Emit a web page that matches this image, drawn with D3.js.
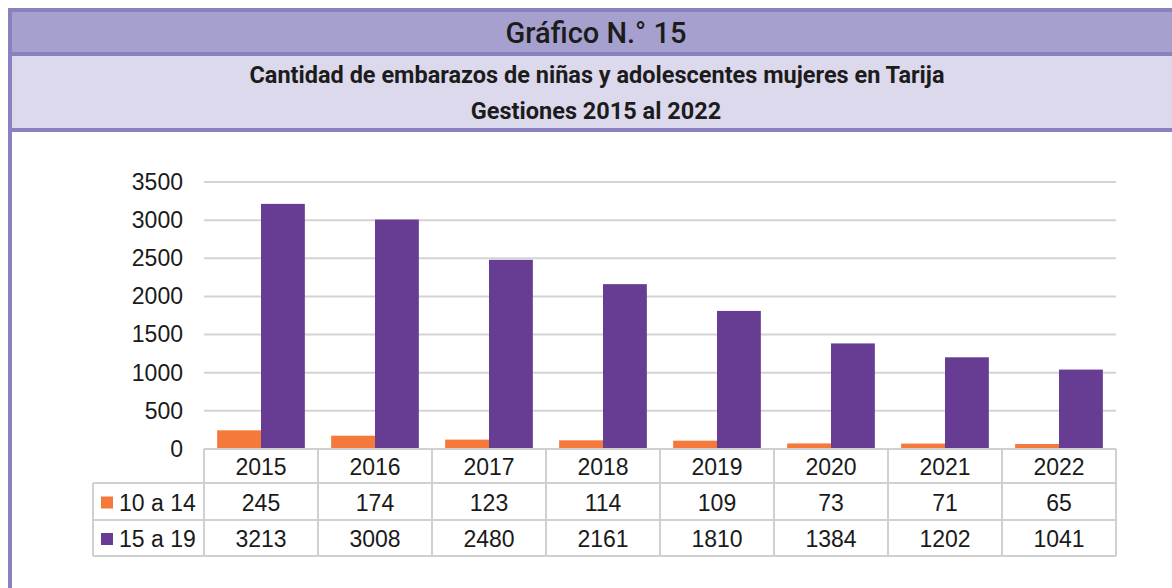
<!DOCTYPE html>
<html>
<head>
<meta charset="utf-8">
<script src="https://cdn.jsdelivr.net/npm/d3@7"></script>
<style>
  body { margin: 0; background: #fff; }
  svg { display: block; }
</style>
</head>
<body>
<svg id="chart" width="1172" height="588"></svg>
<script>
// data
var years = ["2015", "2016", "2017", "2018", "2019", "2020", "2021", "2022"];
var seriesNames = ["10 a 14", "15 a 19"];
var ninas = [245, 174, 123, 114, 109, 73, 71, 65];
var adolescentes = [3213, 3008, 2480, 2161, 1810, 1384, 1202, 1041];
var yTicks = [0, 500, 1000, 1500, 2000, 2500, 3000, 3500];
var colors = ["#F4793B", "#673C93"];

var rows = years.map(function (y, i) {
    return { year: y, "10 a 14": ninas[i], "15 a 19": adolescentes[i] };
});

var svg = d3.select("#chart");

// frame + header bands
svg.append("rect").attr("x", 12).attr("y", 12).attr("width", 1200).attr("height", 40).attr("fill", "#A6A0CF");
svg.append("rect").attr("x", 12).attr("y", 56).attr("width", 1200).attr("height", 72).attr("fill", "#DCD9ED");
svg.append("rect").attr("x", 10).attr("y", 10).attr("width", 1200).attr("height", 700)
    .attr("fill", "none").attr("stroke", "#8882C0").attr("stroke-width", 4);
svg.append("line").attr("x1", 10).attr("x2", 1172).attr("y1", 54).attr("y2", 54)
    .attr("stroke", "#8882C0").attr("stroke-width", 4);
svg.append("line").attr("x1", 10).attr("x2", 1172).attr("y1", 130).attr("y2", 130)
    .attr("stroke", "#8882C0").attr("stroke-width", 4);

svg.append("text").attr("x", 596).attr("y", 43).attr("text-anchor", "middle")
    .style("font-family", "Roboto").style("font-weight", 500).style("font-size", "29px").attr("fill", "#1c1c1c")
    .text("Gráfico N.° 15");
svg.append("text").attr("x", 597).attr("y", 83).attr("text-anchor", "middle")
    .style("font-family", "Roboto").style("font-weight", 700).style("font-size", "23.5px").attr("fill", "#1c1c1c")
    .text("Cantidad de embarazos de niñas y adolescentes mujeres en Tarija");
svg.append("text").attr("x", 596).attr("y", 119).attr("text-anchor", "middle")
    .style("font-family", "Roboto").style("font-weight", 700).style("font-size", "23.5px").attr("fill", "#1c1c1c")
    .text("Gestiones 2015 al 2022");

// scales
var plotLeft = 204, plotRight = 1116, plotTop = 182, plotBottom = 449;
var x0 = d3.scaleBand().domain(years).range([plotLeft, plotRight]).paddingInner(0).paddingOuter(0);
var x1 = d3.scaleBand().domain(seriesNames).range([0, x0.bandwidth()]).paddingInner(0).paddingOuter(0.3);
var y = d3.scaleLinear().domain([0, 3500]).range([plotBottom, plotTop]);
var color = d3.scaleOrdinal().domain(seriesNames).range(colors);

// gridlines
svg.append("g")
    .selectAll("line")
    .data(yTicks.slice(1))
    .join("line")
    .attr("x1", plotLeft).attr("x2", plotRight)
    .attr("y1", d => y(d)).attr("y2", d => y(d))
    .attr("stroke", "#D4D4D4").attr("stroke-width", 2);

// y axis
var yAxis = svg.append("g")
    .attr("transform", `translate(${plotLeft},0)`)
    .call(d3.axisLeft(y).tickValues(yTicks).tickSize(0).tickPadding(21).tickFormat(d3.format("d")));
yAxis.select(".domain").remove();
yAxis.selectAll("text")
    .style("font-family", "Liberation Sans, Arial").style("font-size", "23px").attr("fill", "#1a1a1a");

// bars
svg.append("g")
    .selectAll("g")
    .data(rows)
    .join("g")
    .attr("transform", d => `translate(${x0(d.year)},0)`)
    .selectAll("rect")
    .data(d => seriesNames.map(key => ({ key, value: d[key] })))
    .join("rect")
    .attr("x", d => x1(d.key))
    .attr("y", d => y(d.value))
    .attr("width", x1.bandwidth())
    .attr("height", d => y(0) - y(d.value))
    .attr("fill", d => color(d.key));

// data table
var rowH = [plotBottom, 483, 520, 556];
var legendLeft = 93;
var tbl = svg.append("g").attr("stroke", "#D0D0D0").attr("stroke-width", 2);
tbl.append("line").attr("x1", plotLeft).attr("x2", plotRight).attr("y1", rowH[0]).attr("y2", rowH[0]);
rowH.slice(1).forEach(function (yy) {
    tbl.append("line").attr("x1", legendLeft).attr("x2", plotRight).attr("y1", yy).attr("y2", yy);
});
years.forEach(function (yr) {
    tbl.append("line").attr("x1", x0(yr)).attr("x2", x0(yr)).attr("y1", rowH[0]).attr("y2", rowH[3]);
});
tbl.append("line").attr("x1", plotRight).attr("x2", plotRight).attr("y1", rowH[0]).attr("y2", rowH[3]);
tbl.append("line").attr("x1", legendLeft).attr("x2", legendLeft).attr("y1", rowH[1]).attr("y2", rowH[3]);

var textStyle = function (sel) {
    sel.style("font-family", "Liberation Sans, Arial").style("font-size", "23px").attr("fill", "#1a1a1a")
        .attr("dominant-baseline", "central");
};

svg.append("g").selectAll("text")
    .data(years)
    .join("text")
    .attr("x", d => x0(d) + x0.bandwidth() / 2)
    .attr("y", (rowH[0] + rowH[1]) / 2 + 1)
    .attr("text-anchor", "middle")
    .call(textStyle)
    .text(d => d);

seriesNames.forEach(function (name, si) {
    var cy = (rowH[si + 1] + rowH[si + 2]) / 2 + 1;
    svg.append("rect").attr("x", 101).attr("y", cy - 6).attr("width", 12).attr("height", 12)
        .attr("fill", color(name));
    svg.append("text").attr("x", 119).attr("y", cy).call(textStyle).text(name);
    svg.append("g").selectAll("text")
        .data(rows)
        .join("text")
        .attr("x", d => x0(d.year) + x0.bandwidth() / 2)
        .attr("y", cy)
        .attr("text-anchor", "middle")
        .call(textStyle)
        .text(d => d[name]);
});
</script>
</body>
</html>
